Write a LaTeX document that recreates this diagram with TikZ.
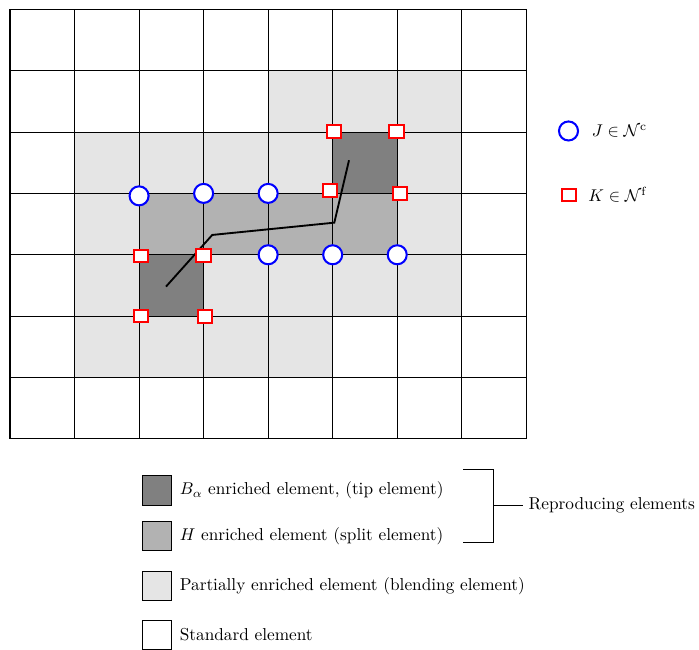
\documentclass[tikz,border=0pt]{standalone}
\usetikzlibrary{positioning}
\begin{document}
\begin{tikzpicture}[x=37.96pt,y=36.1pt,font=\fontsize{10.15pt}{12pt}\selectfont,
    cnode/.style={circle,draw=blue,line width=1.2pt,fill=white,inner sep=0pt,minimum size=11.2pt},
    fnode/.style={rectangle,draw=red,line width=1.2pt,fill=white,inner sep=0pt,minimum width=8.7pt,minimum height=7.3pt},
    legbox/.style={rectangle,draw,semithick,inner sep=0pt,minimum size=17.2pt}]
\useasboundingbox (-0.155,-3.437) rectangle (10.676,7.151);
\fill[black!10] (4,5) rectangle (7,6);
\fill[black!10] (1,2) rectangle (7,5);
\fill[black!10] (1,1) rectangle (5,2);
\fill[black!30] (2,3) rectangle (6,4);
\fill[black!50] (2,2) rectangle (3,3);
\fill[black!50] (5,4) rectangle (6,5);
\foreach \x in {0,...,8}
    \draw[semithick] (\x,0) -- (\x,7);
\foreach \y in {0,...,7}
    \draw[semithick] (0,\y) -- (8,\y);
\draw[line width=1.1pt] (2.417,2.481) -- (3.134,3.323) -- (5.025,3.523) -- (5.253,4.540);
\foreach \p [count=\i] in {(2,3.96),(3,4),(4,4),(4,3),(5,3),(6,3)}
    \node[cnode] (c\i) at \p {};
\foreach \p [count=\i] in {(2.03,2.976),(3,2.986),(2.03,2.004),(3.021,1.992),(5.02,5.006),(5.992,5.006),(4.958,4.045),(6.043,3.996)}
    \node[fnode] (f\i) at \p {};
\node[cnode] (cleg) at (8.654,5.017) {};
\node[right=4pt of cleg] (ctext) {$J \in \mathcal{N}^{\mathrm{c}}$};
\node[fnode] (fleg) at (8.661,3.975) {};
\node[right=3pt of fleg] (ftext) {$K \in \mathcal{N}^{\mathrm{f}}$};
\node[legbox,fill=black!50] (tipbox) at (2.278,-0.842) {};
\node[right=1pt of tipbox] (tiptext) {$B_\alpha$ enriched element, (tip element)};
\node[legbox,fill=black!30] (splitbox) at (2.278,-1.580) {};
\node[right=1pt of splitbox] (splittext) {$H$ enriched element (split element)};
\node[legbox,fill=black!10] (blendbox) at (2.278,-2.399) {};
\node[right=1pt of blendbox] (blendtext) {Partially enriched element (blending element)};
\node[legbox,fill=white] (stdbox) at (2.278,-3.196) {};
\node[right=1pt of stdbox] (stdtext) {Standard element};
\coordinate (bt) at (7.024,-0.494);
\coordinate (bb) at (7.024,-1.683);
\coordinate (bm) at (7.489,-1.087);
\node[right] (reptext) at (7.944,-1.087) {Reproducing elements};
\draw[semithick] (bt) -| (bm) |- (bb);
\draw[semithick] (bm) -- (reptext);
\end{tikzpicture}
\end{document}
